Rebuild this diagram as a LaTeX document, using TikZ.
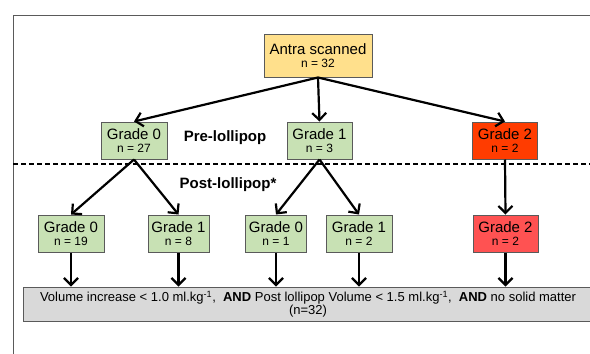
\documentclass[tikz,border=0pt]{standalone}
\usepackage{fontspec}
\setmainfont{Liberation Sans}
\usetikzlibrary{arrows.meta}
\definecolor{boxgreen}{RGB}{200,225,180}
\definecolor{boxyellow}{RGB}{255,224,140}
\definecolor{boxred}{RGB}{255,60,0}
\definecolor{boxpink}{RGB}{255,82,82}
\definecolor{boxgrey}{RGB}{217,217,217}
\definecolor{edgegrey}{RGB}{90,90,90}
\newcommand{\bigtxt}{\fontsize{15}{17}\selectfont}
\newcommand{\smalltxt}{\fontsize{12}{14}\selectfont}
\begin{document}
\begin{tikzpicture}[x=1pt,y=-1pt,
  gbox/.style={draw=edgegrey, line width=1pt, inner sep=0pt, align=center,
    minimum height=37pt},
  arr/.style={-{Straight Barb[length=7pt,width=14pt]}, line width=2.2pt},
  lbl/.style={inner sep=0pt, font=\bfseries\fontsize{15}{17}\selectfont}]
\useasboundingbox (0,0) rectangle (590,354);
% outer frame
\draw[edgegrey, line width=0.8pt] (13,354) -- (13,15) -- (590,15);

% root
\node[gbox, fill=boxyellow, minimum width=108pt, minimum height=43pt] (antra) at (318,55.5)
  {\bigtxt Antra scanned\\[1pt]\smalltxt n = 32};

% pre-lollipop grades
\node[gbox, fill=boxgreen, minimum width=66pt] (pg0) at (134,140.5)
  {\bigtxt Grade 0\\[1pt]\smalltxt n = 27};
\node[gbox, fill=boxgreen, minimum width=65pt] (pg1) at (319.5,140.5)
  {\bigtxt Grade 1\\[1pt]\smalltxt n = 3};
\node[gbox, fill=boxred, minimum width=65pt] (pg2) at (505,140.5)
  {\bigtxt Grade 2\\[1pt]\smalltxt n = 2};

\node[lbl] (pre) at (225,138) {Pre-lollipop};

% separator
\coordinate (sepL) at (13,164);
\coordinate (sepR) at (590,164);
\draw[line width=1.4pt, dash pattern=on 5pt off 3pt] (sepL) -- (sepR);

\node[lbl] (post) at (228,185) {Post-lollipop*};

% post-lollipop grades
\node[gbox, fill=boxgreen, minimum width=66pt] (q0) at (71,233.5)
  {\bigtxt Grade 0\\[1pt]\smalltxt n = 19};
\node[gbox, fill=boxgreen, minimum width=61pt] (q1) at (178.5,233.5)
  {\bigtxt Grade 1\\[1pt]\smalltxt n = 8};
\node[gbox, fill=boxgreen, minimum width=61pt] (q2) at (276,233.5)
  {\bigtxt Grade 0\\[1pt]\smalltxt n = 1};
\node[gbox, fill=boxgreen, minimum width=66pt] (q3) at (359,233.5)
  {\bigtxt Grade 1\\[1pt]\smalltxt n = 2};
\node[gbox, fill=boxpink, minimum width=65pt] (q4) at (505.5,233.5)
  {\bigtxt Grade 2\\[1pt]\smalltxt n = 2};

% outcome
\node[gbox, fill=boxgrey, minimum width=570pt, minimum height=34pt] (out) at (308,304)
  {\fontsize{13}{16}\selectfont Volume increase < 1.0 ml.kg\textsuperscript{-1},\ \ \textbf{AND} Post lollipop Volume < 1.5 ml.kg\textsuperscript{-1},\ \ \textbf{AND} no solid matter\\\fontsize{13}{16}\selectfont (n=32)};

% connectors
\draw[arr] (antra.south) -- (pg0.north);
\draw[arr] (antra.south) -- (pg1.north);
\draw[arr] (antra.south) -- (pg2.north);
\draw[arr] (pg0.south) -- (q0.north);
\draw[arr] (pg0.south) -- (q1.north);
\draw[arr] (pg1.south) -- (q2.north);
\draw[arr] (pg1.south) -- (q3.north);
\draw[arr] (pg2.south) -- (q4.north);
\draw[arr] (q0.south) -- (q0.south |- out.north);
\draw[arr] (q1.south) -- (q1.south |- out.north);
\draw[arr] (q2.south) -- (q2.south |- out.north);
\draw[arr] (q3.south) -- (q3.south |- out.north);
\draw[arr] (q4.south) -- (q4.south |- out.north);
\end{tikzpicture}
\end{document}
